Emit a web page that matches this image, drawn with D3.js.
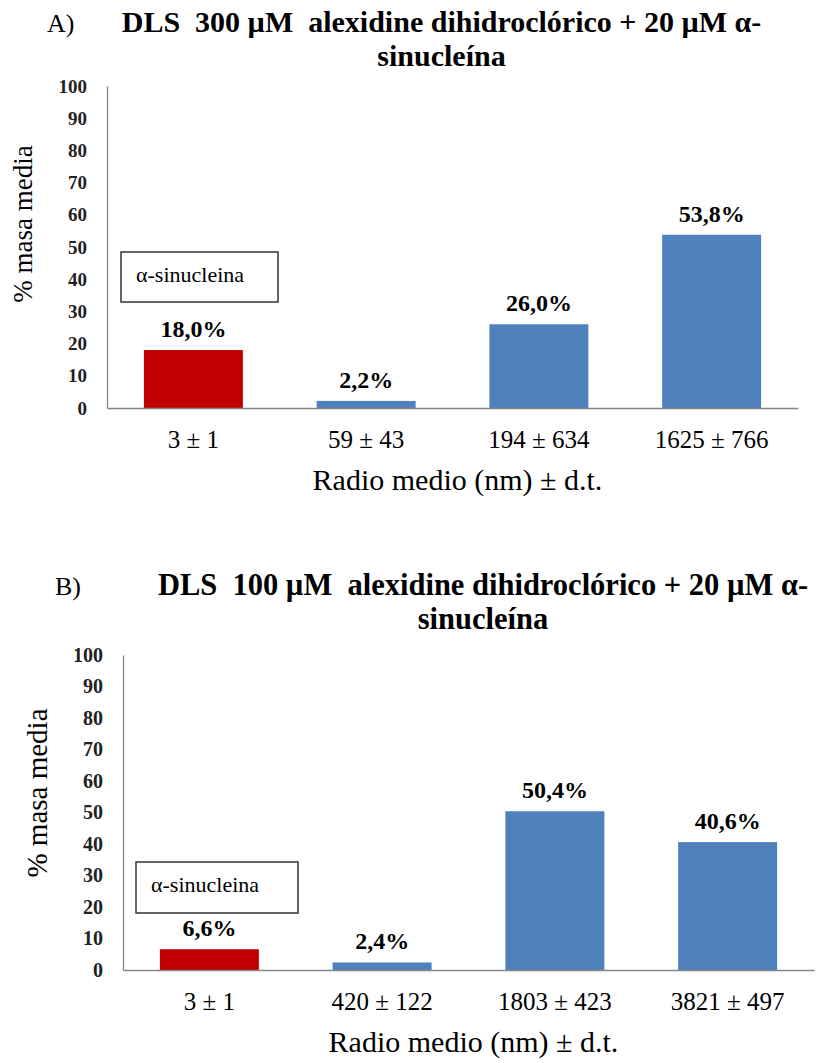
<!DOCTYPE html>
<html>
<head>
<meta charset="utf-8">
<script src="https://cdn.jsdelivr.net/npm/d3@7"></script>
<style>
  html, body { margin: 0; padding: 0; background: #fff; }
  svg { display: block; }
</style>
</head>
<body>
<svg id="chart" width="819" height="1063" font-family="Liberation Serif, DejaVu Serif, serif"></svg>
<script>
// Panel A: 300 µM alexidine + 20 µM α-sinucleína
const categoriesA = ["3 ± 1", "59 ± 43", "194 ± 634", "1625 ± 766"];
const valuesA = [18.0, 2.2, 26.0, 53.8];

// Panel B: 100 µM alexidine + 20 µM α-sinucleína
const categoriesB = ["3 ± 1", "420 ± 122", "1803 ± 423", "3821 ± 497"];
const valuesB = [6.6, 2.4, 50.4, 40.6];

// First population is the free protein, the rest are aggregates
const barColors = ["#C00000", "#4F81BD", "#4F81BD", "#4F81BD"];
const yTicks = [0, 10, 20, 30, 40, 50, 60, 70, 80, 90, 100];
const yDomain = [0, 100];

const titleLine1A = "DLS\u00a0 300 µM\u00a0 alexidine dihidroclórico + 20 µM α-";
const titleLine1B = "DLS\u00a0 100 µM\u00a0 alexidine dihidroclórico + 20 µM α-";
const titleLine2 = "sinucleína";
const yAxisTitle = "% masa media";
const xAxisTitle = "Radio medio (nm) ± d.t.";
const legendText = "α-sinucleina";

const FONT = "Liberation Serif, DejaVu Serif, serif";
const svg = d3.select("#chart");
const pct = v => d3.format(".1f")(v).replace(".", ",") + "%";

function drawPanel(p) {
  const g = svg.append("g").attr("font-family", FONT);

  // panel letter and title
  g.append("text").attr("x", p.letterX).attr("y", p.titleY)
    .attr("font-family", FONT)
    .attr("font-size", 26).attr("fill", "#000").text(p.letter);
  g.append("text").attr("x", p.titleCX).attr("y", p.titleY)
    .attr("font-family", FONT)
    .attr("text-anchor", "middle").attr("font-size", p.titleSize)
    .attr("font-weight", "bold").attr("fill", "#000").text(p.title1);
  g.append("text").attr("x", p.titleCX).attr("y", p.titleY + 34)
    .attr("font-family", FONT)
    .attr("text-anchor", "middle").attr("font-size", p.titleSize)
    .attr("font-weight", "bold").attr("fill", "#000").text(titleLine2);

  const x = d3.scaleBand().domain(p.categories)
    .range([p.left, p.right]).paddingInner(0.427).paddingOuter(0.2135);
  const y = d3.scaleLinear().domain(yDomain).range([p.bottom, p.top]);

  // y axis
  const yAxis = g.append("g").attr("transform", `translate(${p.left},0)`)
    .call(d3.axisLeft(y).tickValues(yTicks).tickSize(0).tickPadding(20));
  yAxis.attr("font-family", FONT);
  yAxis.select(".domain").attr("stroke", "#868686").attr("stroke-width", 1.3);
  yAxis.selectAll("text").attr("font-family", FONT)
    .attr("font-size", p.yTickSize).attr("font-weight", "bold").attr("fill", "#222");

  // bars
  g.selectAll("rect.bar").data(p.values).join("rect")
    .attr("class", "bar")
    .attr("x", (d, i) => x(p.categories[i]))
    .attr("width", x.bandwidth())
    .attr("y", d => y(d))
    .attr("height", d => y(0) - y(d))
    .attr("fill", (d, i) => barColors[i]);

  // value labels
  g.selectAll("text.val").data(p.values).join("text")
    .attr("class", "val").attr("font-family", FONT)
    .attr("x", (d, i) => x(p.categories[i]) + x.bandwidth() / 2)
    .attr("y", d => y(d) - 13)
    .attr("text-anchor", "middle").attr("font-size", 24)
    .attr("font-weight", "bold").attr("fill", "#000")
    .text(d => pct(d));

  // x axis
  const xAxis = g.append("g").attr("transform", `translate(0,${p.bottom})`)
    .call(d3.axisBottom(x).tickSize(0).tickPadding(22).tickSizeOuter(0));
  xAxis.attr("font-family", FONT);
  xAxis.select(".domain").attr("stroke", "#868686").attr("stroke-width", 1.6);
  xAxis.selectAll("text").attr("font-family", FONT)
    .attr("font-size", 25).attr("fill", "#000");

  // axis titles
  g.append("text").attr("font-family", FONT)
    .attr("transform", `translate(${p.yTitleX},${p.yTitleY}) rotate(-90)`)
    .attr("text-anchor", "middle").attr("font-size", p.yTitleSize)
    .attr("fill", "#000").text(yAxisTitle);
  g.append("text").attr("font-family", FONT)
    .attr("x", (p.left + p.right) / 2 + 5).attr("y", p.bottom + 82)
    .attr("text-anchor", "middle").attr("font-size", 30)
    .attr("fill", "#000").text(xAxisTitle);

  // label box
  g.append("rect").attr("x", p.box[0]).attr("y", p.box[1])
    .attr("width", p.box[2]).attr("height", p.box[3])
    .attr("fill", "#fff").attr("stroke", "#333").attr("stroke-width", 1.5);
  g.append("text").attr("font-family", FONT)
    .attr("x", p.box[0] + 15).attr("y", p.box[1] + 30)
    .attr("font-size", 22).attr("fill", "#000").text(legendText);
}

drawPanel({
  letter: "A)", letterX: 47, titleY: 32, titleCX: 441.5, titleSize: 30,
  title1: titleLine1A, categories: categoriesA, values: valuesA,
  left: 107, right: 798, top: 86, bottom: 408, yTickSize: 19,
  yTitleX: 32, yTitleY: 224, yTitleSize: 27,
  box: [121, 252, 157, 50]
});

drawPanel({
  letter: "B)", letterX: 55, titleY: 595, titleCX: 483, titleSize: 30.5,
  title1: titleLine1B, categories: categoriesB, values: valuesB,
  left: 123, right: 814, top: 655, bottom: 970, yTickSize: 20,
  yTitleX: 47, yTitleY: 793, yTitleSize: 29,
  box: [136, 862, 162, 51]
});
</script>
</body>
</html>
